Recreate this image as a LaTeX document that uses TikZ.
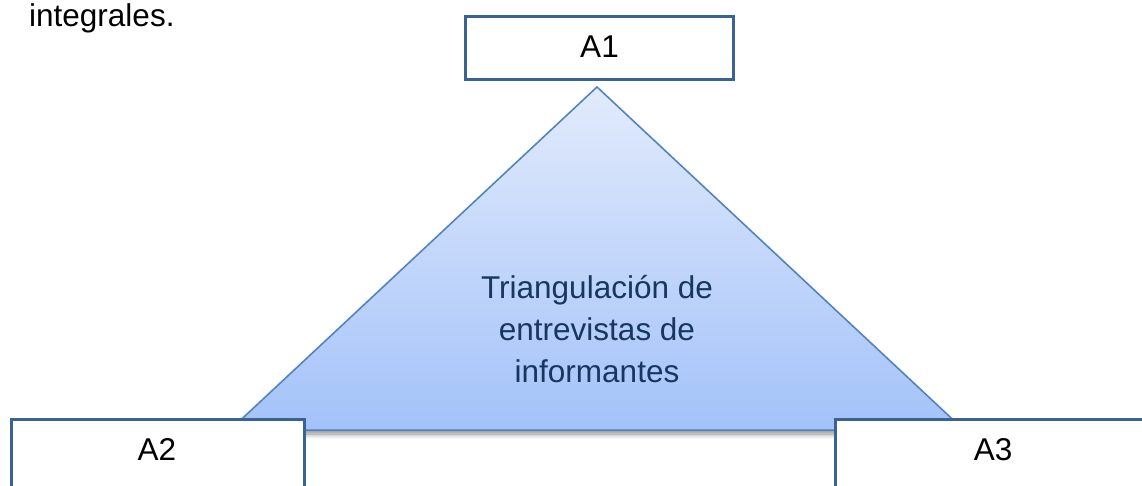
\documentclass[tikz,border=0pt]{standalone}
\usepackage{fontspec}
\setmainfont{Liberation Sans}
\usetikzlibrary{shadows.blur}
\definecolor{boxblue}{RGB}{59,98,148}
\definecolor{triline}{RGB}{79,129,189}
\definecolor{tritop}{RGB}{226,235,252}
\definecolor{tribot}{RGB}{163,194,249}
\definecolor{navy}{RGB}{23,55,94}
\tikzset{
  boxstyle/.style={draw=boxblue, line width=3pt, fill=white, inner sep=0pt},
  lbl/.style={font=\fontsize{31.5}{37}\selectfont, text=black, inner sep=0pt},
  trifill/.style={draw=triline, line width=1.5pt, line join=miter, top color=tritop, bottom color=tribot,
    blur shadow={shadow xshift=0pt, shadow yshift=-4pt, shadow blur steps=8, shadow blur radius=5pt, shadow opacity=45}},
}
\begin{document}
\begin{tikzpicture}[x=1pt,y=-1pt]
\path[use as bounding box] (0,0) rectangle (1142,486);
\clip (0,0) rectangle (1142,486);
\node[lbl, anchor=base west] (intro) at (29,27) {integrales.};
% triangle
\coordinate (apex) at (597,87);
\coordinate (bl) at (230,430);
\coordinate (br) at (964,430);
\path[trifill] (apex) -- (br) -- (bl) -- cycle;
\node[font=\fontsize{31.5}{42}\selectfont, text=navy, align=center, inner sep=0pt] (tri) at (597,329)
  {Triangulación de\\entrevistas de\\informantes};
% boxes
\node[boxstyle, minimum width=268pt, minimum height=63pt, anchor=north west] (a1) at (464,15) {};
\node[lbl, anchor=base] (a1t) at (a1.center |- 0,58) {A1};
\node[boxstyle, minimum width=293pt, minimum height=120pt, anchor=north west] (a2) at (10,418) {};
\node[lbl, anchor=base] (a2t) at (157,460) {A2};
\node[boxstyle, minimum width=340pt, minimum height=120pt, anchor=north west] (a3) at (834,418) {};
\node[lbl, anchor=base] (a3t) at (993,460) {A3};
\end{tikzpicture}
\end{document}
